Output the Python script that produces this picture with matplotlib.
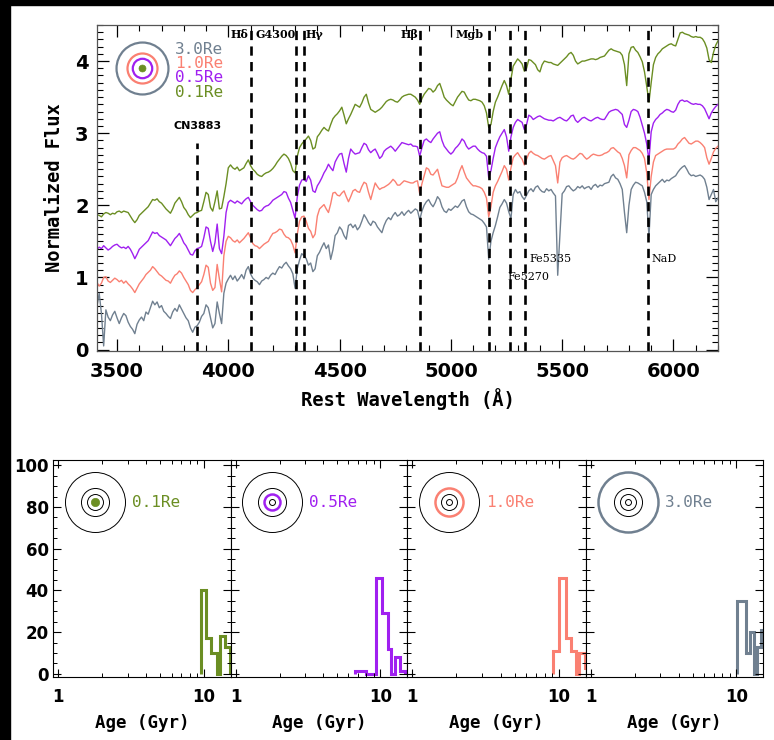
import numpy as np
import matplotlib.pyplot as plt
from matplotlib.patches import Rectangle
from matplotlib.ticker import MultipleLocator, LogLocator, NullFormatter

# ---- stacked spectra (normalized flux on a 10 A grid) ----
wave = np.arange(3410, 6201, 10)

flux_01re = [
    1.87, 1.86, 1.84, 1.88, 1.90, 1.89, 1.87, 1.89, 1.88, 1.91,
    1.92, 1.90, 1.92, 1.91, 1.90, 1.85, 1.80, 1.76, 1.80, 1.86,
    1.89, 1.92, 1.95, 1.98, 2.03, 2.08, 2.07, 2.09, 2.05, 2.03,
    1.99, 1.95, 1.92, 1.89, 1.95, 2.03, 2.07, 2.11, 2.05, 1.97,
    1.93, 1.87, 1.83, 1.86, 1.89, 1.90, 1.92, 1.93, 2.05, 2.18,
    2.15, 1.97, 1.92, 2.05, 2.20, 1.95, 1.96, 2.12, 2.30, 2.52,
    2.56, 2.52, 2.50, 2.53, 2.48, 2.50, 2.52, 2.58, 2.63, 2.55,
    2.50, 2.47, 2.43, 2.41, 2.40, 2.43, 2.45, 2.46, 2.48, 2.51,
    2.55, 2.60, 2.64, 2.68, 2.71, 2.69, 2.65, 2.58, 2.48, 2.45,
    2.68, 2.80, 2.85, 2.89, 2.92, 2.96, 2.90, 2.78, 2.80, 2.95,
    2.99, 3.04, 3.08, 3.05, 3.03, 3.12, 3.20, 3.24, 3.27, 3.31,
    3.36, 3.25, 3.13, 3.20, 3.26, 3.33, 3.40, 3.38, 3.36, 3.42,
    3.50, 3.54, 3.42, 3.33, 3.31, 3.29, 3.31, 3.33, 3.36, 3.40,
    3.44, 3.46, 3.47, 3.46, 3.44, 3.43, 3.46, 3.50, 3.52, 3.53,
    3.54, 3.54, 3.52, 3.50, 3.46, 3.40, 3.48, 3.54, 3.58, 3.62,
    3.61, 3.57, 3.60, 3.66, 3.69, 3.60, 3.50, 3.46, 3.43, 3.40,
    3.38, 3.44, 3.50, 3.54, 3.58, 3.57, 3.51, 3.46, 3.45, 3.47,
    3.47, 3.46, 3.45, 3.43, 3.38, 3.28, 3.08, 3.12, 3.30, 3.43,
    3.50, 3.58, 3.66, 3.73, 3.66, 3.54, 3.75, 3.93, 3.98, 4.03,
    4.00, 3.96, 3.86, 3.90, 4.02, 4.01, 3.98, 3.95, 3.88, 3.85,
    3.95, 4.00, 3.99, 3.98, 3.98, 3.96, 3.95, 3.94, 3.97, 4.00,
    4.03, 4.06, 4.10, 4.12, 4.08, 4.00, 3.96, 3.98, 4.00, 4.00,
    4.01, 4.02, 4.03, 4.03, 4.02, 4.03, 4.05, 4.06, 4.07, 4.11,
    4.15, 4.17, 4.15, 4.14, 4.13, 4.12, 4.08, 3.95, 3.66, 4.10,
    4.19, 4.20, 4.15, 4.12, 4.06, 3.99, 3.85, 3.65, 3.43, 3.70,
    3.95, 4.05, 4.10, 4.13, 4.17, 4.19, 4.21, 4.23, 4.24, 4.22,
    4.21, 4.30, 4.39, 4.40, 4.38, 4.37, 4.36, 4.34, 4.33, 4.34,
    4.33, 4.33, 4.31, 4.26, 4.18, 4.02, 3.98, 4.12, 4.22, 4.28,
]

flux_05re = [
    1.39, 1.42, 1.40, 1.44, 1.41, 1.38, 1.40, 1.43, 1.45, 1.46,
    1.43, 1.41, 1.42, 1.40, 1.43, 1.39, 1.33, 1.26, 1.32, 1.39,
    1.42, 1.45, 1.48, 1.51, 1.57, 1.63, 1.61, 1.62, 1.58, 1.56,
    1.54, 1.52, 1.48, 1.44, 1.49, 1.54, 1.57, 1.61, 1.55, 1.48,
    1.44, 1.38, 1.32, 1.31, 1.37, 1.40, 1.41, 1.43, 1.55, 1.70,
    1.68, 1.50, 1.36, 1.48, 1.74, 1.40, 1.33, 1.57, 1.90, 2.04,
    2.07, 2.05, 2.03, 2.06, 2.04, 2.02, 2.06, 2.09, 2.11, 2.05,
    2.00, 1.97, 1.94, 1.92, 1.93, 1.97, 1.99, 2.00, 2.03, 2.07,
    2.09, 2.11, 2.13, 2.15, 2.19, 2.18, 2.10, 2.04, 1.93, 1.82,
    2.12, 2.28, 2.35, 2.36, 2.33, 2.41, 2.35, 2.20, 2.18, 2.27,
    2.32, 2.38, 2.45, 2.50, 2.57, 2.52, 2.48, 2.60, 2.66, 2.71,
    2.72, 2.58, 2.46, 2.65, 2.78, 2.74, 2.71, 2.72, 2.73, 2.80,
    2.86, 2.84, 2.77, 2.73, 2.76, 2.78, 2.72, 2.65, 2.68, 2.75,
    2.78, 2.80, 2.82, 2.79, 2.75, 2.79, 2.83, 2.87, 2.86, 2.85,
    2.84, 2.85, 2.82, 2.82, 2.81, 2.68, 2.80, 2.90, 2.92, 2.89,
    2.87, 2.92, 2.96, 3.00, 3.02, 2.90, 2.82, 2.78, 2.74, 2.71,
    2.74, 2.79, 2.82, 2.86, 2.92, 2.89, 2.82, 2.78, 2.80, 2.82,
    2.82, 2.78, 2.75, 2.73, 2.72, 2.68, 2.38, 2.48, 2.65, 2.80,
    2.88, 2.95, 3.00, 3.05, 2.95, 2.75, 2.95, 3.08, 3.15, 3.19,
    3.17, 3.15, 3.05, 3.12, 3.25, 3.23, 3.19, 3.21, 3.23, 3.24,
    3.22, 3.20, 3.19, 3.18, 3.18, 3.17, 3.19, 3.21, 3.22, 3.20,
    3.18, 3.17, 3.20, 3.24, 3.25, 3.18, 3.15, 3.18, 3.21, 3.22,
    3.20, 3.18, 3.17, 3.19, 3.21, 3.22, 3.20, 3.19, 3.19, 3.24,
    3.29, 3.31, 3.32, 3.33, 3.32, 3.29, 3.26, 3.12, 3.08, 3.18,
    3.30, 3.33, 3.32, 3.30, 3.22, 3.11, 3.00, 2.85, 2.62, 3.02,
    3.14, 3.19, 3.22, 3.26, 3.28, 3.31, 3.33, 3.32, 3.30, 3.29,
    3.32, 3.40, 3.45, 3.46, 3.44, 3.45, 3.43, 3.41, 3.40, 3.41,
    3.40, 3.40, 3.38, 3.34, 3.27, 3.20, 3.28, 3.33, 3.37, 3.40,
]

flux_10re = [
    0.93, 0.88, 0.92, 1.00, 1.01, 0.95, 0.93, 0.96, 0.99, 0.97,
    0.94, 0.96, 0.92, 0.95, 0.91, 0.88, 0.84, 0.79, 0.85, 0.91,
    0.95, 0.99, 1.04, 1.07, 1.10, 1.15, 1.12, 1.08, 1.04, 1.02,
    0.99, 0.96, 0.95, 0.92, 0.98, 1.03, 1.05, 1.09, 1.06, 1.00,
    0.95, 0.90, 0.82, 0.79, 0.83, 0.86, 0.90, 0.94, 1.04, 1.17,
    1.14, 0.92, 0.82, 0.86, 1.18, 0.98, 0.80, 1.30, 1.50, 1.57,
    1.55, 1.51, 1.49, 1.52, 1.48, 1.51, 1.54, 1.58, 1.62, 1.55,
    1.47, 1.44, 1.43, 1.40, 1.43, 1.46, 1.48, 1.50, 1.56, 1.61,
    1.62, 1.64, 1.67, 1.66, 1.60, 1.56, 1.55, 1.52, 1.45, 1.34,
    1.60, 1.78, 1.84, 1.85, 1.78, 1.68, 1.64, 1.55, 1.60, 1.85,
    1.95, 1.98, 2.01, 1.95, 1.90, 2.02, 2.17, 2.18, 2.14, 2.13,
    2.17, 2.20, 2.12, 2.05, 2.12, 2.20, 2.22, 2.19, 2.18, 2.26,
    2.32, 2.30, 2.18, 2.08, 2.20, 2.31, 2.26, 2.22, 2.24, 2.25,
    2.27, 2.29, 2.32, 2.36, 2.33, 2.28, 2.28, 2.31, 2.34, 2.33,
    2.32, 2.31, 2.31, 2.33, 2.34, 2.16, 2.30, 2.41, 2.52, 2.50,
    2.43, 2.42, 2.46, 2.50, 2.38, 2.27, 2.26, 2.25, 2.25, 2.27,
    2.29, 2.31, 2.38, 2.48, 2.55, 2.46, 2.38, 2.34, 2.30, 2.27,
    2.27, 2.26, 2.25, 2.23, 2.18, 2.10, 1.84, 1.98, 2.18, 2.27,
    2.33, 2.40, 2.47, 2.55, 2.50, 2.35, 2.52, 2.66, 2.70, 2.73,
    2.68, 2.64, 2.56, 2.64, 2.72, 2.75, 2.72, 2.70, 2.69, 2.67,
    2.65, 2.64, 2.66, 2.68, 2.69, 2.62, 2.55, 2.31, 2.60, 2.66,
    2.68, 2.69, 2.67, 2.65, 2.64, 2.66, 2.69, 2.72, 2.71, 2.67,
    2.64, 2.66, 2.69, 2.71, 2.70, 2.69, 2.69, 2.70, 2.72, 2.73,
    2.75, 2.79, 2.80, 2.77, 2.74, 2.72, 2.65, 2.55, 2.38, 2.70,
    2.76, 2.80, 2.80, 2.78, 2.76, 2.72, 2.65, 2.45, 2.08, 2.40,
    2.60, 2.69, 2.71, 2.73, 2.75, 2.77, 2.78, 2.78, 2.78, 2.78,
    2.80, 2.85, 2.88, 2.92, 2.94, 2.90, 2.86, 2.85, 2.87, 2.89,
    2.89, 2.87, 2.84, 2.80, 2.66, 2.57, 2.65, 2.74, 2.79, 2.82,
]

flux_30re = [
    0.60, 0.78, 0.50, 0.05, 0.55, 0.45, 0.40, 0.48, 0.53, 0.44,
    0.36, 0.44, 0.50, 0.47, 0.38, 0.32, 0.28, 0.22, 0.35, 0.41,
    0.45, 0.40, 0.52, 0.49, 0.58, 0.67, 0.62, 0.66, 0.58, 0.61,
    0.53, 0.50, 0.46, 0.43, 0.52, 0.57, 0.53, 0.62, 0.56, 0.50,
    0.44, 0.40, 0.30, 0.24, 0.31, 0.33, 0.38, 0.46, 0.50, 0.62,
    0.58, 0.44, 0.30, 0.36, 0.66, 0.50, 0.36, 0.78, 0.92, 0.98,
    1.03, 0.97, 1.02, 0.95, 0.99, 1.04, 0.98, 1.10, 1.15, 1.05,
    0.99, 0.96, 0.94, 0.90, 0.95, 0.97, 1.00, 0.98, 1.03, 1.06,
    1.04, 1.10, 1.15, 1.13, 1.18, 1.21, 1.16, 1.12, 1.05, 0.85,
    1.12, 1.24, 1.33, 1.30, 1.26, 1.17, 1.20, 1.08, 1.12, 1.30,
    1.35, 1.42, 1.48, 1.40, 1.45, 1.25, 1.38, 1.58, 1.62, 1.70,
    1.66, 1.58, 1.53, 1.72, 1.74, 1.69, 1.73, 1.66, 1.70, 1.78,
    1.87, 1.82, 1.76, 1.72, 1.78, 1.76, 1.70, 1.66, 1.62, 1.72,
    1.79, 1.83, 1.80, 1.86, 1.90, 1.85, 1.87, 1.91, 1.86, 1.90,
    1.93, 1.89, 1.92, 1.95, 1.93, 1.80, 1.92, 2.00, 2.05, 2.08,
    2.02, 1.98, 2.04, 2.12, 2.08, 1.98, 1.92, 1.90, 1.95, 1.93,
    1.96, 1.99, 1.97, 2.01, 2.06, 2.08, 1.98, 1.91, 1.88, 1.87,
    1.85, 1.83, 1.81, 1.79, 1.75, 1.70, 1.25, 1.50, 1.62, 1.72,
    1.84, 1.97, 2.02, 2.08, 2.03, 1.91, 1.82, 2.15, 2.22, 2.17,
    2.19, 2.12, 2.08, 2.14, 2.20, 2.23, 2.19, 2.25, 2.27, 2.22,
    2.19, 2.18, 2.23, 2.20, 2.22, 2.17, 2.13, 1.03, 1.60, 2.16,
    2.20, 2.26, 2.27, 2.23, 2.20, 2.22, 2.26, 2.24, 2.27, 2.23,
    2.25, 2.26, 2.22, 2.27, 2.29, 2.25, 2.28, 2.27, 2.30, 2.31,
    2.32, 2.40, 2.43, 2.38, 2.36, 2.30, 2.22, 1.90, 1.62, 2.00,
    2.22, 2.28, 2.32, 2.31, 2.29, 2.27, 2.18, 2.05, 1.57, 2.15,
    2.22, 2.27, 2.30, 2.33, 2.36, 2.32, 2.35, 2.34, 2.37, 2.39,
    2.41, 2.46, 2.50, 2.53, 2.55, 2.50, 2.44, 2.41, 2.42, 2.40,
    2.41, 2.42, 2.40, 2.36, 2.25, 2.08, 2.15, 2.22, 2.05, 2.10,
]

radius_labels = ['0.1Re', '0.5Re', '1.0Re', '3.0Re']
colors = ['#6b8e23', '#a020f0', '#fa8072', '#708090']

# absorption indices marked on the spectra
index_names = ['CN3883', 'H\u03b4', 'G4300', 'H\u03b3', 'H\u03b2', 'Mgb',
               'Fe5270', 'Fe5335', 'NaD']
index_wave = [3860, 4104, 4302, 4342, 4862, 5173, 5266, 5331, 5887]

# age distributions (per cent) in each aperture
age_edges = [
    [9.53, 10.3, 11.2, 12.3, 12.9, 13.9, 15.1],
    [6.7, 7.9, 9.4, 10.3, 11.3, 11.9, 12.7, 13.7, 14.8],
    [9.1, 10.0, 11.2, 12.1, 13.1, 13.8, 15.0, 15.6],
    [10.2, 11.6, 12.35, 13.2, 13.8, 14.8, 16.3],
]
age_frac = [
    [40, 17, 10, 0, 18, 13],
    [1.5, 0, 46, 29, 12, 0, 8, 1.5],
    [11, 46, 17, 11, 0, 10, 3],
    [35, 10, 20, 0, 13, 21],
]

spec_xticks = [3500, 4000, 4500, 5000, 5500, 6000]
spec_yticks = [0, 1, 2, 3, 4]
age_xticks = [1, 10]
age_yticks = [0, 20, 40, 60, 80, 100]

mono = 'DejaVu Sans Mono'

fig = plt.figure(figsize=(7.74, 7.40), dpi=100)

# ---------------- spectra ----------------
ax = fig.add_axes([0.1253, 0.5257, 0.8023, 0.4405])
for flux, c in zip([flux_01re, flux_05re, flux_10re, flux_30re], colors):
    ax.plot(wave, flux, color=c, lw=1.0)

ax.set_xlim(3410, 6200)
ax.set_ylim(-0.02, 4.5)

dash = (0, (3.5, 2.4))
for name, w in zip(index_names, index_wave):
    if name == 'CN3883':
        ax.plot([w, w], [-0.02, 2.87], color='k', lw=1.9, linestyle=dash)
    else:
        ax.axvline(w, color='k', lw=1.9, linestyle=dash)

# label placement: (x offset in A, y, alignment, style)
label_pos = {
    'CN3883': (0, 3.10, 'center', 'sans'),
    'H\u03b4': (-14, 4.375, 'right', 'serif'),
    'G4300': (-178, 4.375, 'left', 'serif'),
    'H\u03b3': (7, 4.375, 'left', 'serif'),
    'H\u03b2': (-9, 4.375, 'right', 'serif'),
    'Mgb': (-24, 4.375, 'right', 'serif'),
    'Fe5270': (-13, 1.01, 'left', 'plain'),
    'Fe5335': (21, 1.25, 'left', 'plain'),
    'NaD': (14, 1.25, 'left', 'plain'),
}
for name, w in zip(index_names, index_wave):
    dx, y, ha, style = label_pos[name]
    if style == 'sans':
        kw = dict(family='DejaVu Sans', fontweight='bold')
    elif style == 'serif':
        kw = dict(family='DejaVu Serif', fontweight='bold')
    else:
        kw = dict(family='DejaVu Serif')
    ax.text(w + dx, y, name, ha=ha, va='center', fontsize=8, **kw)

# aperture sketch in the corner
cx, cy = 0.0725, 0.868
ax.plot(cx, cy, 'o', ms=37.4, mfc='none', mec=colors[3], mew=1.6,
        transform=ax.transAxes, clip_on=False)
ax.plot(cx, cy, 'o', ms=21.6, mfc='none', mec=colors[2], mew=1.6,
        transform=ax.transAxes, clip_on=False)
ax.plot(cx, cy, 'o', ms=14, mfc='none', mec=colors[1], mew=1.6,
        transform=ax.transAxes, clip_on=False)
ax.plot(cx, cy, 'o', ms=5, mfc=colors[0], mec=colors[0], mew=0.5,
        transform=ax.transAxes, clip_on=False)
for lab, c, y in zip(radius_labels[::-1], colors[::-1], [0.925, 0.883, 0.839, 0.794]):
    ax.text(0.1256, y, lab, color=c, fontsize=11.5, family=mono,
            transform=ax.transAxes, ha='left', va='center')

ax.set_xticks(spec_xticks)
ax.set_xticklabels([str(t) for t in spec_xticks], fontsize=14, fontweight='bold')
ax.set_yticks(spec_yticks)
ax.set_yticklabels([str(t) for t in spec_yticks], fontsize=14, fontweight='bold')
ax.xaxis.set_minor_locator(MultipleLocator(100))
ax.yaxis.set_minor_locator(MultipleLocator(0.1))
ax.tick_params(which='both', direction='in', top=True, right=True)
ax.tick_params(which='major', length=8.5, width=0.9)
ax.tick_params(which='minor', length=4.3, width=0.8)
ax.tick_params(axis='x', which='major', pad=8)
ax.tick_params(axis='y', which='major', pad=6)
for s in ax.spines.values():
    s.set_color('#555555')
    s.set_linewidth(0.9)
ax.set_xlabel('Rest Wavelength (\u00c5)', family=mono, fontweight='bold',
              fontsize=13.5, labelpad=5)
ax.set_ylabel('Normalized Flux', family=mono, fontweight='bold',
              fontsize=13.5, labelpad=8)

# ---------------- age histograms ----------------
lefts = [0.0685, 0.2984, 0.5258, 0.7571, 0.9858]
ring_ms = [4.3, 11.5, 20.2, 43.2]
for i in range(4):
    hx = fig.add_axes([lefts[i], 0.0851, lefts[i + 1] - lefts[i], 0.2932])
    hx.set_xscale('log')
    hx.set_xlim(0.92, 15.3)
    hx.set_ylim(-1.5, 102.5)
    hx.stairs(age_frac[i], age_edges[i], baseline=0, color=colors[i], lw=2.2)

    # rings marking the aperture, the current one highlighted
    for j in range(4):
        if j == i:
            if j == 0:
                hx.plot(0.236, 0.806, 'o', ms=6, mfc=colors[j], mec=colors[j],
                        mew=0.5, transform=hx.transAxes)
            else:
                hx.plot(0.236, 0.806, 'o', ms=ring_ms[j], mfc='none',
                        mec=colors[j], mew=1.8, transform=hx.transAxes)
        else:
            hx.plot(0.236, 0.806, 'o', ms=ring_ms[j], mfc='none', mec='k',
                    mew=0.7, transform=hx.transAxes)
    hx.text(0.444, 0.806, radius_labels[i], color=colors[i], fontsize=11.5,
            family=mono, transform=hx.transAxes, ha='left', va='center')

    hx.set_xticks(age_xticks)
    hx.xaxis.set_minor_locator(LogLocator(base=10, subs=np.arange(2, 10)))
    hx.xaxis.set_minor_formatter(NullFormatter())
    hx.set_xticklabels([str(t) for t in age_xticks], fontsize=12, fontweight='bold')
    hx.set_yticks(age_yticks)
    hx.yaxis.set_minor_locator(MultipleLocator(5))
    if i == 0:
        hx.set_yticklabels([str(t) for t in age_yticks], fontsize=12,
                           fontweight='bold')
    else:
        hx.set_yticklabels([])
    hx.tick_params(which='both', direction='in', top=True, right=True)
    hx.tick_params(which='major', length=6, width=0.8)
    hx.tick_params(which='minor', length=3, width=0.7)
    hx.tick_params(axis='x', which='major', pad=8)
    hx.tick_params(axis='y', which='major', pad=3)
    for s in hx.spines.values():
        s.set_linewidth(0.8)
    hx.set_xlabel('Age (Gyr)', family=mono, fontweight='bold', fontsize=12.5,
                  labelpad=6)

# dark frame along the top and left edges
fig.patches.append(Rectangle((0, 1 - 5 / 740), 1, 5 / 740, color='k',
                             transform=fig.transFigure, zorder=10))
fig.patches.append(Rectangle((0, 0), 10 / 774, 1, color='k',
                             transform=fig.transFigure, zorder=10))

fig.savefig('out.png', dpi=100)
